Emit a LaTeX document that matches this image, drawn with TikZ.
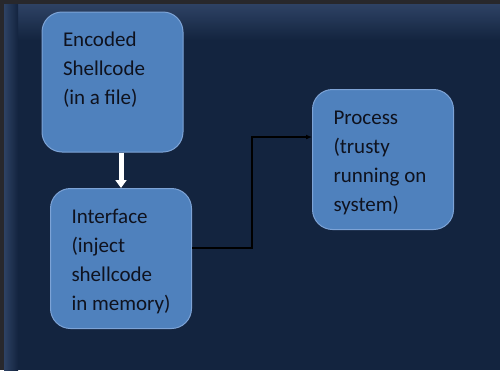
\documentclass[tikz,border=0pt]{standalone}
\usepackage{fontspec}
\setmainfont{Carlito}
\usepackage{tikz}
\usetikzlibrary{arrows.meta, positioning}
\usepackage{xcolor}
\definecolor{slide-navy}{RGB}{19,36,63}
\definecolor{slide-band}{RGB}{46,66,100}
\definecolor{slide-dark}{RGB}{40,40,44}
\definecolor{box-blue}{RGB}{79,129,189}
\definecolor{box-edge}{RGB}{125,163,214}
\definecolor{box-text}{RGB}{15,18,30}

%% top-anchored, left-aligned text block inside a box
\newcommand{\boxlines}[1]{\parbox[c][111pt][t]{99pt}{%
    \begin{tabular}[t]{@{}l@{}}#1\end{tabular}}}

\begin{document}
\begin{tikzpicture}[
    x=1pt, y=-1pt,
    %% Rounded process box
    pbox/.style = {rectangle, rounded corners=20pt,
                   draw=box-edge, line width=1pt, fill=box-blue,
                   minimum width=141pt, minimum height=140pt,
                   inner sep=0pt, text=box-text,
                   font=\fontsize{21}{29}\selectfont},
    %% thick white arrow between the left boxes
    warr/.style = {-{Triangle[width=11pt, length=8pt]}, line width=5pt, color=white},
    %% elbow connector
    arr/.style  = {-{Latex[length=6pt, width=5pt]}, line width=1.4pt, color=black},
]

%% ---- background ----
\useasboundingbox (0,0) rectangle (500,370);
\fill[slide-navy] (0,0) rectangle (500,370);
\shade[top color=slide-band, bottom color=slide-navy] (0,4) rectangle (500,40);
\shade[left color=slide-band, right color=slide-navy] (4,4) rectangle (18,370);
\fill[slide-dark] (0,0) rectangle (500,4);
\fill[slide-dark] (0,0) rectangle (4,370);

%% ---- boxes ----
\node[pbox] (shellcode) at (112.5, 82)  {\boxlines{Encoded\\Shellcode\\(in a file)}};
\node[pbox] (interface) at (121, 258.5) {\boxlines{Interface\\(inject\\shellcode\\in memory)}};
\node[pbox] (process)   at (383, 159.5) {\boxlines{Process\\(trusty\\running on\\system)}};

%% ---- connectors ----
\draw[warr] (shellcode.south -| interface.north) -- (interface.north);
\draw[arr] ([yshift=10.5pt]interface.east) -- ++(60,0) |- ([yshift=22.5pt]process.west);

\end{tikzpicture}
\end{document}
